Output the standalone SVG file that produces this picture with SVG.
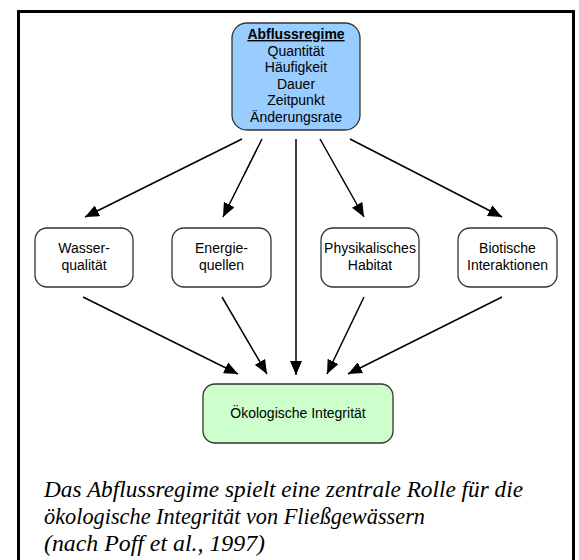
<svg xmlns="http://www.w3.org/2000/svg" width="579" height="560" viewBox="0 0 579 560">
<defs>
<style>
.node{stroke:#333;stroke-width:1.3}
.lbl{font-family:"Liberation Sans",Arial,sans-serif;font-size:14px;fill:#000;text-anchor:middle}
.conn line{stroke:#000;stroke-width:1.5;marker-end:url(#arr)}
.cap{font-family:"Liberation Serif","Times New Roman",serif;font-style:italic;font-size:22.5px;fill:#000}
</style>
<marker id="arr" markerUnits="userSpaceOnUse" markerWidth="14" markerHeight="12" viewBox="0 0 14 12" refX="14" refY="6" orient="auto">
<path d="M0,0 L14,6 L0,12 z" fill="#000"/>
</marker>
</defs>
<rect x="0" y="0" width="579" height="560" fill="#fff"/>
<rect x="18.5" y="11.5" width="555" height="560" fill="none" stroke="#000" stroke-width="3"/>
<g id="connectors" class="conn">
<line x1="242" y1="139" x2="85" y2="217"/>
<line x1="262" y1="139" x2="223" y2="217"/>
<line x1="296" y1="139" x2="296" y2="375"/>
<line x1="320" y1="139" x2="364" y2="217"/>
<line x1="350" y1="139" x2="502" y2="217"/>
<line x1="83" y1="297" x2="238" y2="374"/>
<line x1="222" y1="297" x2="267" y2="374"/>
<line x1="364" y1="297" x2="327" y2="374"/>
<line x1="502" y1="297" x2="348" y2="374"/>
</g>
<g id="abflussregime">
<rect class="node" x="232" y="23" width="128" height="107" rx="15" fill="#99ccff"/>
<text class="lbl" x="296" y="39" font-weight="bold" text-decoration="underline">Abflussregime</text>
<text class="lbl" x="296" y="56">Quantität</text>
<text class="lbl" x="296" y="72">Häufigkeit</text>
<text class="lbl" x="296" y="89">Dauer</text>
<text class="lbl" x="296" y="105">Zeitpunkt</text>
<text class="lbl" x="296" y="122">Änderungsrate</text>
</g>
<g id="wasserqualitaet">
<rect class="node" x="35" y="228" width="98" height="59" rx="12" fill="#fff"/>
<text class="lbl" x="84" y="253">Wasser-</text>
<text class="lbl" x="84" y="270">qualität</text>
</g>
<g id="energiequellen">
<rect class="node" x="172" y="228" width="99" height="59" rx="12" fill="#fff"/>
<text class="lbl" x="221.5" y="253">Energie-</text>
<text class="lbl" x="221.5" y="270">quellen</text>
</g>
<g id="physikalisches-habitat">
<rect class="node" x="321" y="228" width="98" height="59" rx="12" fill="#fff"/>
<text class="lbl" x="370" y="253">Physikalisches</text>
<text class="lbl" x="370" y="270">Habitat</text>
</g>
<g id="biotische-interaktionen">
<rect class="node" x="458" y="228" width="99" height="59" rx="12" fill="#fff"/>
<text class="lbl" x="507.5" y="253">Biotische</text>
<text class="lbl" x="507.5" y="270">Interaktionen</text>
</g>
<g id="oekologische-integritaet">
<rect class="node" x="203" y="384" width="190" height="59" rx="12" fill="#ccffcc"/>
<text class="lbl" x="298" y="418" font-size="13">Ökologische Integrität</text>
</g>
<g id="caption">
<text class="cap" x="44" y="497" textLength="479" lengthAdjust="spacingAndGlyphs">Das Abflussregime spielt eine zentrale Rolle für die</text>
<text class="cap" x="44" y="524" textLength="381" lengthAdjust="spacingAndGlyphs">ökologische Integrität von Fließgewässern</text>
<text class="cap" x="44" y="551" textLength="221" lengthAdjust="spacingAndGlyphs">(nach Poff et al., 1997)</text>
</g>
</svg>
